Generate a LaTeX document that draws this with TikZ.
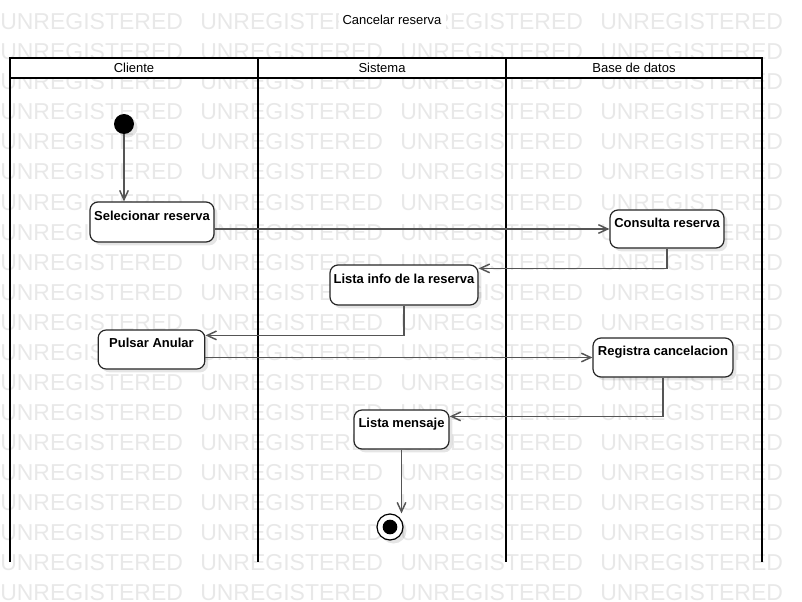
\documentclass[tikz,border=0pt]{standalone}
\usepackage{fontspec}
\setmainfont{Liberation Sans}
\usepackage{tikz}
\usetikzlibrary{shadows}
\usetikzlibrary{arrows.meta}
\definecolor{wmgray}{HTML}{E8E8E8}
\definecolor{flowgray}{HTML}{555555}

\begin{document}
\begin{tikzpicture}[x = .75pt, y = -.75pt,
  actbox/.style = {draw = black!85, line width = .9pt, fill = white, rounded corners = 6pt, inner sep = 0pt, text height = 13pt, text depth = 15.5pt, font = \fontsize{9.75}{12}\selectfont\bfseries, drop shadow = {shadow xshift = 2.5pt, shadow yshift = -2.5pt, fill = black, opacity = .1}},
  flow/.style = {draw = flowgray, line width = 1.1pt, -{Straight Barb[length = 7pt, width = 6.5pt]}},
  lane/.style = {line width = 1.5pt, black},
  lanetext/.style = {font = \fontsize{9.75}{12}\selectfont}]
 \useasboundingbox (0, 0) rectangle (802, 602);
 \begin{scope}
  \clip (0, 0) rectangle (802, 602);
  \foreach \r in {1, ..., 20}
   \foreach \c in {0, ..., 4}
    \node [anchor = base west, inner sep = 0, text = wmgray, font = \fontsize{17.25}{20}\selectfont] at (200*\c, 30*\r) {UNREGISTERED};
 \end{scope}
 \node [lanetext, fill = white, inner xsep = 3pt, minimum height = 18pt] (titulo) at (392, 20) {Cancelar reserva};
 \fill [white] (10, 58) rectangle (762, 78);
 \draw [lane] (10, 562) -- (10, 58) -- (762, 58) -- (762, 562);
 \draw [lane] (10, 78) -- (762, 78);
 \draw [lane] (258, 58) -- (258, 562);
 \draw [lane] (506, 58) -- (506, 562);
 \node [lanetext] (cliente) at (134, 68) {Cliente};
 \node [lanetext] (sistema) at (382, 68) {Sistema};
 \node [lanetext] (basedatos) at (634, 68) {Base de datos};
 \node [fill, circle, minimum size = 15pt, inner sep = 0, drop shadow = {fill = black, opacity = .1}] (inicio) at (124, 124) {};
 \node [actbox, minimum width = 93pt, minimum height = 30pt] (sel) at (152, 222) {Selecionar reserva};
 \node [actbox, minimum width = 85.5pt, minimum height = 28.5pt] (cons) at (667, 229) {Consulta reserva};
 \node [actbox, minimum width = 111pt, minimum height = 30pt] (info) at (404, 285) {Lista info de la reserva};
 \node [actbox, minimum width = 80pt, minimum height = 29.25pt] (pulsar) at (151.5, 349.5) {Pulsar Anular};
 \node [actbox, minimum width = 105pt, minimum height = 29.25pt] (reg) at (663, 357.5) {Registra cancelacion};
 \node [actbox, minimum width = 71.25pt, minimum height = 29.25pt] (msg) at (401.5, 429.5) {Lista mensaje};
 \node [draw, circle, line width = .9pt, fill = white, minimum size = 19.5pt, inner sep = 0, drop shadow = {fill = black, opacity = .1}] (fin) at (390, 527) {};
 \node [fill, circle, minimum size = 11pt, inner sep = 0] (findot) at (fin) {};
 \draw [flow] (inicio) -- (inicio |- sel.north);
 \draw [flow] (sel.east |- cons.west) -- (cons.west);
 \draw [flow] (cons.south) |- ([yshift = -3pt]info.north east);
 \draw [flow] (info.south) |- ([yshift = -4.5pt]pulsar.north east);
 \draw [flow] (pulsar.east |- reg.west) -- (reg.west);
 \draw [flow] (reg.south) |- ([yshift = -5.25pt]msg.north east);
 \draw [flow] (msg.south) -- (msg.south |- fin.north);
\end{tikzpicture}
\end{document}
